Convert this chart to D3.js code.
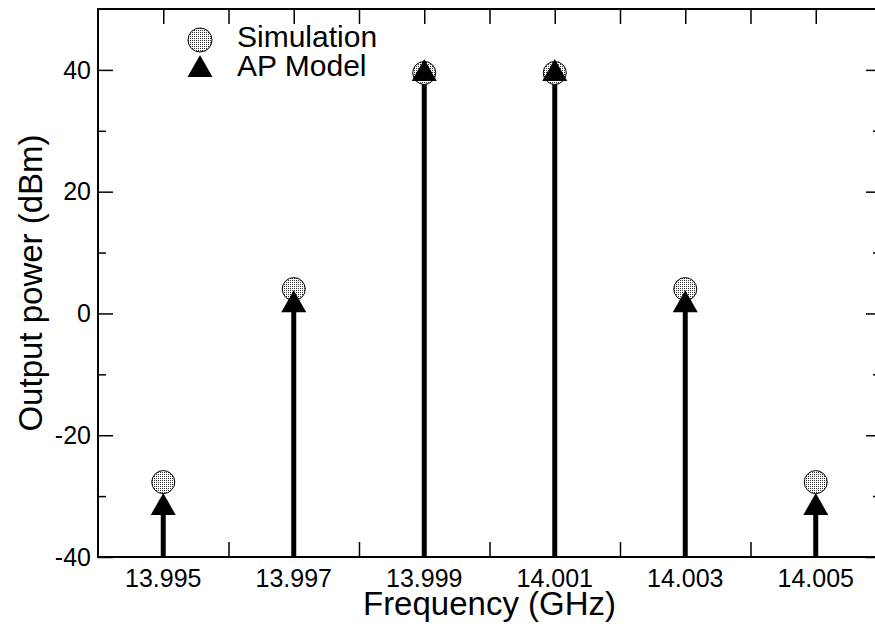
<!DOCTYPE html>
<html>
<head>
<meta charset="utf-8">
<script src="https://cdn.jsdelivr.net/npm/d3@7"></script>
<style>
  html, body { margin: 0; padding: 0; background: #fff; }
  svg { display: block; font-family: "Liberation Sans", Arial, Helvetica, sans-serif; }
</style>
</head>
<body>
<div id="main"></div>
<script>
const freqs = [13.995, 13.997, 13.999, 14.001, 14.003, 14.005];
const simulation = [-27.7, 4.0, 39.5, 39.5, 4.0, -27.7];
const apModel = [-31.3, 2.0, 40.0, 40.0, 2.0, -31.3];
const xTicks = [13.995, 13.996, 13.997, 13.998, 13.999, 14.0, 14.001, 14.002, 14.003, 14.004, 14.005];
const xLabels = [13.995, 13.997, 13.999, 14.001, 14.003, 14.005];
const yMajor = [-40, -20, 0, 20, 40];
const yMinor = [-30, -10, 10, 30];

const width = 875, height = 626;
const plotL = 98, plotR = 881, plotT = 9, plotB = 557;

const svg = d3.select("#main").append("svg")
  .attr("width", width)
  .attr("height", height);

// stipple fill for the circles
const pat = svg.append("defs").append("pattern")
  .attr("id", "dots")
  .attr("width", 2).attr("height", 2)
  .attr("patternUnits", "userSpaceOnUse");
pat.append("rect").attr("width", 2).attr("height", 2).attr("fill", "#fff");
pat.append("rect").attr("width", 1).attr("height", 1).attr("fill", "#333");

const x = d3.scaleLinear().domain([13.994, 14.006]).range([plotL, plotR]);
const y = d3.scaleLinear().domain([-40, 50]).range([plotB, plotT]);

const g = svg.append("g");

// stems
g.selectAll(".stem")
  .data(freqs)
  .join("line")
  .attr("x1", d => x(d)).attr("x2", d => x(d))
  .attr("y1", y(-40))
  .attr("y2", (d, i) => y(apModel[i]))
  .attr("stroke", "#000")
  .attr("stroke-width", 5);

// simulation circles
g.selectAll(".sim")
  .data(freqs)
  .join("circle")
  .attr("cx", d => x(d))
  .attr("cy", (d, i) => y(simulation[i]))
  .attr("r", 11.5)
  .attr("fill", "url(#dots)")
  .attr("stroke", "#000")
  .attr("stroke-width", 1);

// AP model triangles
const tri = (cx, cy) => `M${cx},${cy - 11}L${cx + 12.5},${cy + 11}L${cx - 12.5},${cy + 11}Z`;
g.selectAll(".ap")
  .data(freqs)
  .join("path")
  .attr("d", (d, i) => tri(x(d), y(apModel[i])))
  .attr("fill", "#000");

// axes, ticks pointing inward
svg.append("g").attr("transform", `translate(0,${plotB})`)
  .call(d3.axisTop(x).tickValues(xTicks).tickSize(15).tickFormat(""));
svg.append("g").attr("transform", `translate(0,${plotT})`)
  .call(d3.axisBottom(x).tickValues(xTicks).tickSize(15).tickFormat(""));
svg.append("g").attr("transform", `translate(${plotL},0)`)
  .call(d3.axisRight(y).tickValues(yMajor).tickSize(15).tickFormat(""));
svg.append("g").attr("transform", `translate(${plotL},0)`)
  .call(d3.axisRight(y).tickValues(yMinor).tickSize(8).tickFormat(""));
svg.append("g").attr("transform", `translate(${plotR},0)`)
  .call(d3.axisLeft(y).tickValues(yMajor).tickSize(15).tickFormat(""));
svg.append("g").attr("transform", `translate(${plotR},0)`)
  .call(d3.axisLeft(y).tickValues(yMinor).tickSize(8).tickFormat(""));

svg.selectAll(".domain").remove();
svg.selectAll(".tick line").attr("stroke", "#000").attr("stroke-width", 1.5);

// frame
svg.append("rect")
  .attr("x", plotL).attr("y", plotT)
  .attr("width", plotR - plotL).attr("height", plotB - plotT)
  .attr("fill", "none")
  .attr("stroke", "#000")
  .attr("stroke-width", 2);

// tick labels
svg.append("g").selectAll("text")
  .data(xLabels)
  .join("text")
  .attr("x", d => x(d))
  .attr("y", 587)
  .attr("text-anchor", "middle")
  .attr("font-size", 25)
  .text(d => d3.format(".3f")(d));

svg.append("g").selectAll("text")
  .data(yMajor)
  .join("text")
  .attr("x", 91)
  .attr("y", d => y(d))
  .attr("dy", "0.35em")
  .attr("text-anchor", "end")
  .attr("font-size", 25)
  .text(d => d);

// axis titles
svg.append("text")
  .attr("x", (plotL + plotR) / 2)
  .attr("y", 615)
  .attr("text-anchor", "middle")
  .attr("font-size", 33)
  .text("Frequency (GHz)");

svg.append("text")
  .attr("transform", `translate(42,${(plotT + plotB) / 2}) rotate(-90)`)
  .attr("text-anchor", "middle")
  .attr("font-size", 33)
  .text("Output power (dBm)");

// legend
const legend = svg.append("g");
legend.append("circle")
  .attr("cx", 200).attr("cy", 40).attr("r", 12)
  .attr("fill", "url(#dots)")
  .attr("stroke", "#000");
legend.append("path").attr("d", tri(200, 66)).attr("fill", "#000");
legend.append("text").attr("x", 237).attr("y", 47).attr("font-size", 30).text("Simulation");
legend.append("text").attr("x", 237).attr("y", 76).attr("font-size", 30).text("AP Model");
</script>
</body>
</html>
